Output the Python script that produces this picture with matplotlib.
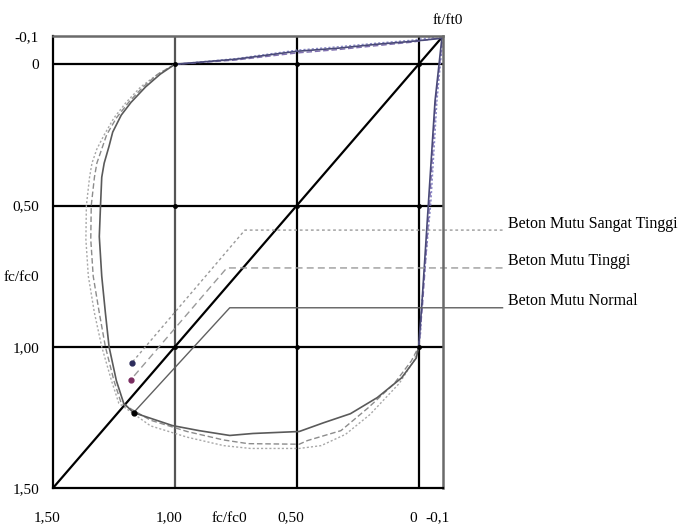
import matplotlib
matplotlib.use("Agg")
import matplotlib.pyplot as plt
from matplotlib.transforms import ScaledTranslation

plt.rcParams['font.family'] = ['Liberation Serif', 'DejaVu Serif']

# ---- data ----
x_ticks = [1.5, 1.0, 0.75, 0.5, 0.0, -0.1]
x_tick_labels = ['1,50', '1,00', 'fc/fc0', '0,50', '0', '-0,1']
y_ticks = [-0.1, 0.0, 0.5, 0.75, 1.0, 1.5]
y_tick_labels = ['-0,1', '0', '0,50', 'fc/fc0', '1,00', '1,50']
grid_vals = [0.0, 0.5, 1.0]

# compression-compression part of the envelopes
normal_cc_x = [1.00, 1.06, 1.12, 1.18, 1.22, 1.255, 1.27, 1.29, 1.30, 1.305, 1.31, 1.30, 1.285, 1.27, 1.24, 1.21, 1.17,
               1.01, 0.90, 0.775, 0.68, 0.49, 0.39, 0.28, 0.17, 0.07, 0.01, 0.0]
normal_cc_y = [0.0, 0.035, 0.08, 0.135, 0.18, 0.24, 0.29, 0.35, 0.40, 0.50, 0.61, 0.75, 0.88, 1.00, 1.12, 1.20, 1.233,
               1.279, 1.297, 1.314, 1.307, 1.30, 1.269, 1.237, 1.18, 1.11, 1.04, 1.0]
tinggi_cc_x = [1.00, 1.07, 1.13, 1.19, 1.24, 1.28, 1.30, 1.32, 1.33, 1.343, 1.345, 1.335, 1.31, 1.285, 1.25, 1.22,
               1.10, 0.95, 0.80, 0.70, 0.49, 0.456, 0.319, 0.207, 0.10, 0.03, 0.0]
tinggi_cc_y = [0.0, 0.035, 0.08, 0.135, 0.19, 0.25, 0.30, 0.35, 0.40, 0.50, 0.62, 0.75, 0.88, 1.00, 1.12, 1.20,
               1.26, 1.30, 1.33, 1.343, 1.345, 1.332, 1.297, 1.216, 1.13, 1.05, 1.0]
sangat_cc_x = [1.00, 1.07, 1.14, 1.20, 1.25, 1.29, 1.32, 1.34, 1.35, 1.363, 1.365, 1.355, 1.33, 1.30, 1.26, 1.23,
               1.10, 0.95, 0.80, 0.69, 0.49, 0.40, 0.30, 0.20, 0.08, 0.02, 0.0]
sangat_cc_y = [0.0, 0.035, 0.08, 0.135, 0.19, 0.25, 0.30, 0.35, 0.40, 0.50, 0.62, 0.75, 0.88, 1.00, 1.12, 1.20,
               1.28, 1.32, 1.35, 1.36, 1.36, 1.35, 1.31, 1.24, 1.13, 1.05, 1.0]

# tension parts of the envelopes
normal_t_x = [0.0, -0.004, -0.013, -0.04, -0.067, -0.095, 0.03, 0.17, 0.33, 0.50, 0.75, 1.00]
normal_t_y = [1.0, 0.95, 0.85, 0.49, 0.13, -0.092, -0.081, -0.071, -0.057, -0.046, -0.018, 0.0]
tinggi_t_x = [0.0, -0.006, -0.016, -0.045, -0.07, -0.098, 0.03, 0.17, 0.33, 0.50, 0.75, 1.00]
tinggi_t_y = [1.0, 0.95, 0.85, 0.49, 0.13, -0.095, -0.078, -0.066, -0.052, -0.040, -0.015, 0.0]
sangat_t_x = [0.0, -0.008, -0.012, -0.05, -0.075, -0.1, 0.03, 0.17, 0.33, 0.50, 0.75, 1.00]
sangat_t_y = [1.0, 0.95, 0.85, 0.49, 0.13, -0.1, -0.085, -0.075, -0.062, -0.050, -0.020, 0.0]

series_names = ['Beton Mutu Sangat Tinggi', 'Beton Mutu Tinggi', 'Beton Mutu Normal']
leader_y = [0.587, 0.721, 0.862]
leader_corner_x = [0.713, 0.787, 0.775]
leader_dot_x = [1.177, 1.181, 1.169]
leader_dot_y = [1.057, 1.117, 1.233]
leader_end_x = -0.344
label_x = -0.365

# ---- figure ----
fig = plt.figure(figsize=(6.88, 5.29), dpi=100)
ax = fig.add_axes([0.077, 0.0775, 0.567, 0.8544])
ax.set_xlim(1.5, -0.1)
ax.set_ylim(1.5, -0.1)

for s in ['left', 'bottom']:
    ax.spines[s].set_color('black')
    ax.spines[s].set_linewidth(1.6)
for s in ['right', 'top']:
    ax.spines[s].set_color('#6a6a6a')
    ax.spines[s].set_linewidth(1.8)

for g in grid_vals:
    ax.axhline(g, color='black', lw=1.6, zorder=1)
    ax.axvline(g, color='#555555' if g == 1.0 else 'black', lw=1.6, zorder=1)

# intersection dots
for gx in grid_vals:
    for gy in grid_vals:
        ax.plot(gx, gy, 'o', color='black', ms=2.5, zorder=3)

# diagonal
ax.plot([1.5, -0.1], [1.5, -0.1], color='black', lw=1.6, zorder=2)

# envelopes
ax.plot(sangat_cc_x, sangat_cc_y, color='#a8a8a8', lw=1.0, ls=(0, (1.5, 1.5)), zorder=2)
ax.plot(tinggi_cc_x, tinggi_cc_y, color='#8c8c8c', lw=1.0, ls=(0, (4, 2)), zorder=2)
ax.plot(normal_cc_x, normal_cc_y, color='#5a5a5a', lw=1.2, zorder=2)
ax.plot(sangat_t_x, sangat_t_y, color='#8a8ac8', lw=1.0, ls=(0, (1.5, 1.5)), zorder=2)
ax.plot(tinggi_t_x, tinggi_t_y, color='#8070b0', lw=1.0, ls=(0, (4, 2)), zorder=2)
ax.plot(normal_t_x, normal_t_y, color='#4a4a78', lw=1.2, zorder=2)

# leaders and labels
leader_styles = [(0, (2, 2)), (0, (5, 3)), '-']
leader_colors = ['#9a9a9a', '#9a9a9a', '#606060']
dot_colors = ['#2c2c5c', '#7a2c60', 'black']
for name, ly, cx, dx, dy, ls, lc, dc in zip(series_names, leader_y, leader_corner_x,
                                            leader_dot_x, leader_dot_y, leader_styles,
                                            leader_colors, dot_colors):
    ax.plot([leader_end_x, cx, dx], [ly, ly, dy], color=lc, lw=1.0, ls=ls,
            clip_on=False, zorder=2)
    ax.plot(dx, dy, 'o', color=dc, ms=3.5, zorder=4)
    ax.text(label_x, ly + 0.005, name, ha='left', va='bottom', fontsize=11.5,
            color='black', clip_on=False)

ax.set_xticks(x_ticks)
ax.set_xticklabels(x_tick_labels)
ax.set_yticks(y_ticks)
ax.set_yticklabels(y_tick_labels)
ax.tick_params(axis='x', length=0, pad=17, labelsize=11, colors='black')
ax.tick_params(axis='y', length=0, pad=10, labelsize=11, colors='black')

shift = ScaledTranslation(-6 / 100, 0, fig.dpi_scale_trans)
for lab in ax.get_xticklabels():
    lab.set_transform(lab.get_transform() + shift)

ax.text(-0.12, -0.155, 'ft/ft0', ha='center', va='center', fontsize=11,
        color='black', clip_on=False)

fig.savefig('out.png', dpi=100)
